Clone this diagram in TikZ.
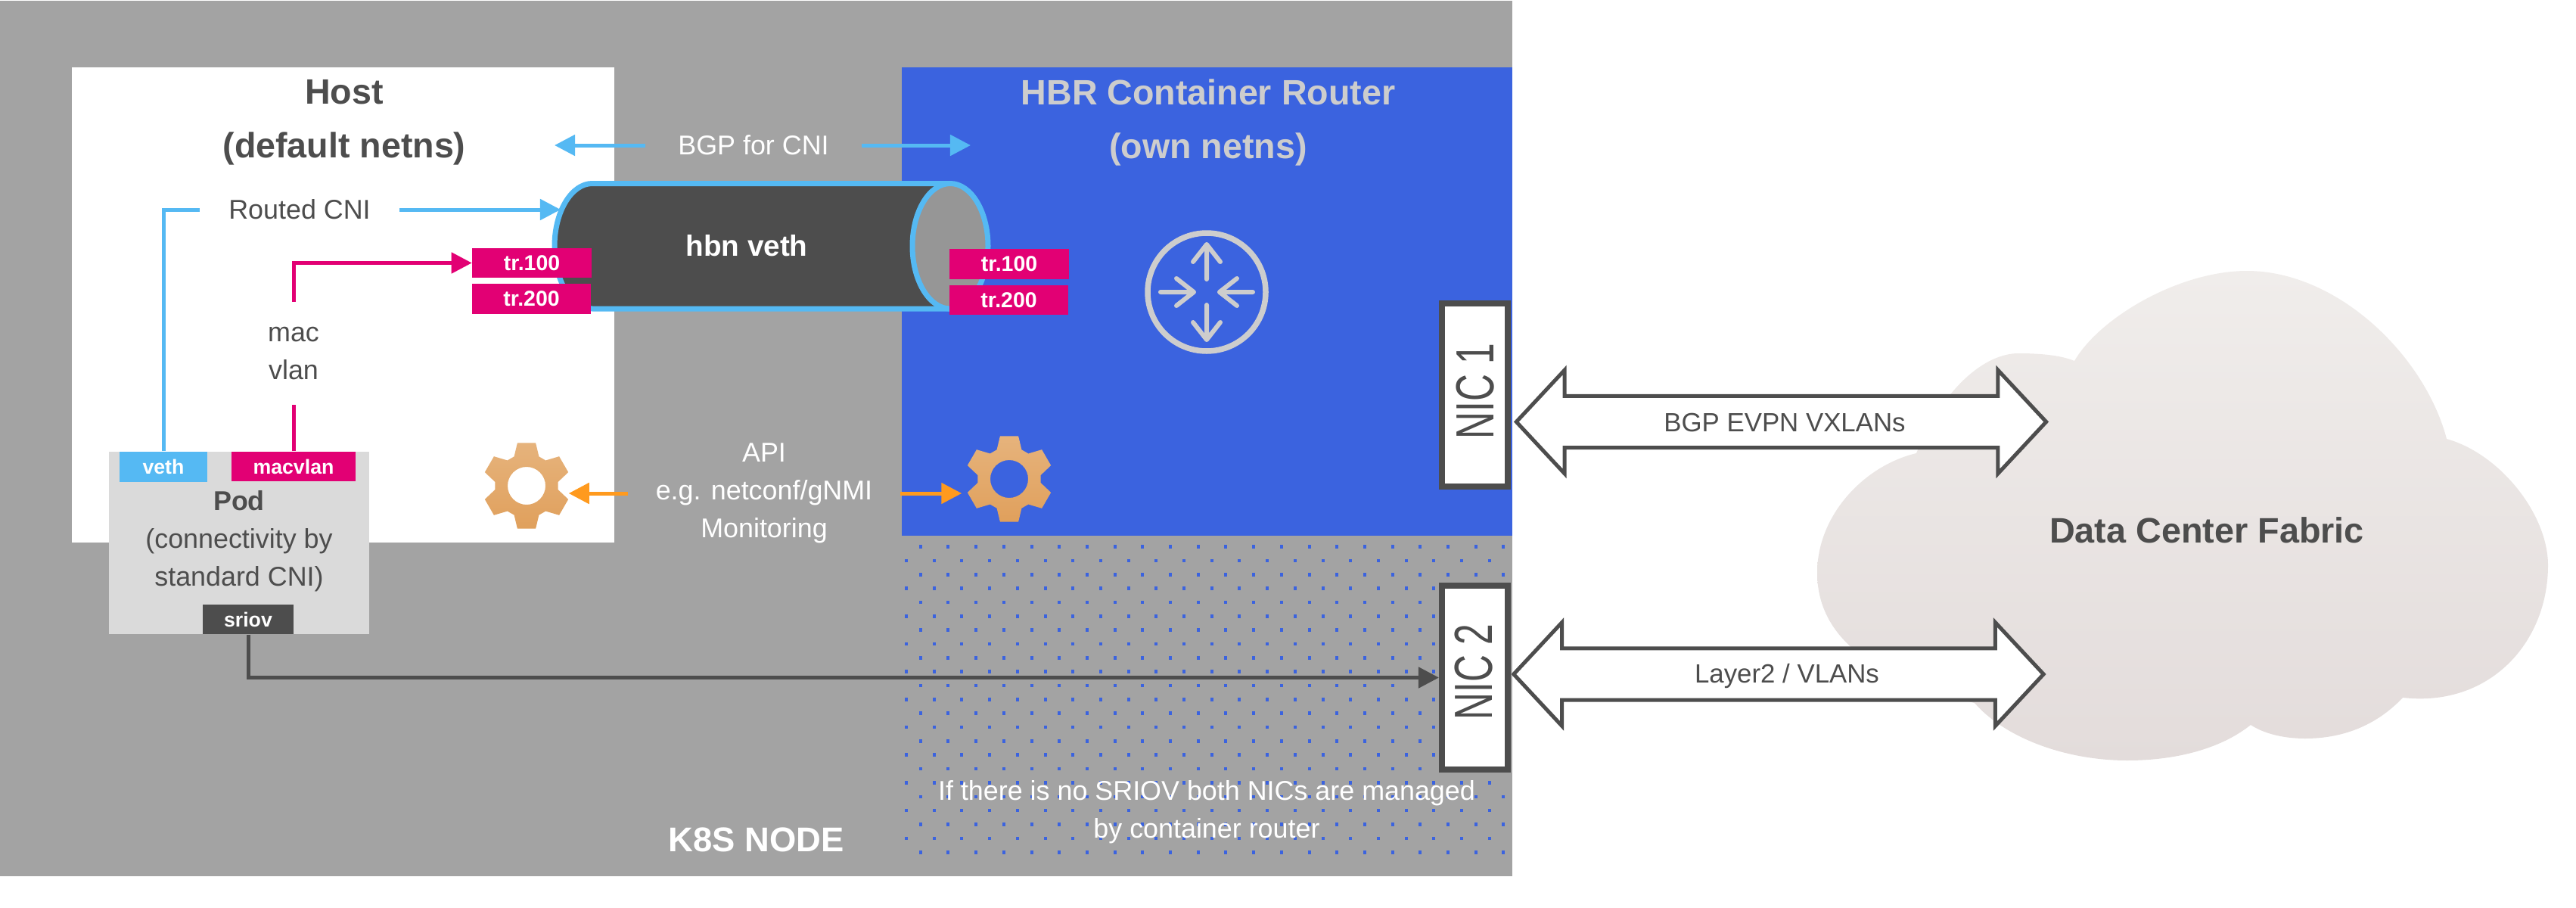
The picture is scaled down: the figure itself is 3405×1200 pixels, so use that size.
\documentclass[tikz,border=0pt]{standalone}
\usepackage{fontspec}
\setmainfont{Liberation Sans}
\usetikzlibrary{arrows.meta,shapes.arrows}
\definecolor{nodegray}{HTML}{A3A3A3}
\definecolor{podgray}{HTML}{DADADA}
\definecolor{capgray}{HTML}{969696}
\definecolor{iconlight}{HTML}{CDCDCD}
\definecolor{darktext}{HTML}{4D4D4D}
\definecolor{routerblue}{HTML}{3B63DF}
\definecolor{vethblue}{HTML}{55B9F3}
\definecolor{trmagenta}{HTML}{E20074}
\definecolor{apiorange}{HTML}{FF9A1E}
\definecolor{geartop}{HTML}{E6B37C}
\definecolor{gearbottom}{HTML}{E0A05C}
\definecolor{cloudtop}{HTML}{F0EDEB}
\definecolor{cloudbottom}{HTML}{E3DCDB}
\begin{document}
\begin{tikzpicture}[x=0.01cm,y=-0.01cm,
txt/.style={font=\fontsize{10.2}{14.2}\selectfont,align=center,inner sep=0pt},
title/.style={font=\fontsize{13.25}{20.2}\selectfont\bfseries,align=center,inner sep=0pt},
tag/.style={font=\fontsize{7.6}{9}\selectfont\bfseries,text=white,inner sep=0pt,minimum height=0.39cm},
trtag/.style={tag,fill=trmagenta,font=\fontsize{8.1}{9}\selectfont\bfseries,minimum width=1.57cm},
nicbox/.style={draw=darktext,fill=white,line width=0.08cm,minimum width=0.87cm,minimum height=2.43cm,inner sep=0pt},
nictxt/.style={font=\fontsize{20.2}{22}\selectfont,text=darktext,rotate=90,inner sep=0pt},
dblarrow/.style={double arrow,draw=darktext,fill=white,line width=0.05cm,double arrow tip angle=94,double arrow head extend=0.345cm,minimum height=7cm,minimum width=1.32cm,inner sep=0pt,text height=0.63cm,text depth=0pt},
dbltxt/.style={text=darktext,font=\fontsize{9.9}{12}\selectfont,inner sep=0pt},
link/.style={line width=0.05cm,-{Triangle[length=0.27cm,width=0.27cm]}},
gearslot/.style={circle,minimum size=#1,inner sep=0pt},
gear/.pic={\path[top color=geartop,bottom color=gearbottom,even odd rule](67:42)\foreach \a in {90,150,...,390}{--(\a-23:42)--(\a-12:58)--(\a+12:58)--(\a+23:42)}--cycle(0,0)circle[radius=25];}]
\useasboundingbox(0,0)rectangle(3405,1200);
% k8s node, host and router areas
\fill[nodegray](0,1)rectangle(1999,1158);
\fill[white](95,89)rectangle(812,717);
\fill[routerblue](1192,89)rectangle(1999,708);
\foreach \r in {0,...,22}{
\pgfmathsetmacro{\dotx}{mod(\r,2)==0?1216.7:1198}
\pgfmathsetmacro{\doty}{722.5+18.35*\r}
\foreach \c in {0,...,21}{
\fill[routerblue](\dotx+36.7*\c-2,\doty-2.3)rectangle++(4,4.6);
}}
% cloud
\path[top color=cloudtop,bottom color=cloudbottom](2742,477)..controls(2775,420)and(2880,358)..(2970,358)..controls(3090,358)and(3205,470)..(3234,580)
..controls(3305,600)and(3368,680)..(3368,747)..controls(3368,850)and(3290,935)..(3176,922)
..controls(3140,960)and(3095,976)..(3047,976)..controls(3015,976)and(2990,968)..(2975,958)
..controls(2935,990)and(2875,1005)..(2812,1005)..controls(2730,1005)and(2650,975)..(2610,929)
..controls(2490,900)and(2402,850)..(2402,757)..controls(2402,680)and(2465,615)..(2533,599)
..controls(2570,510)and(2625,467)..(2668,467)..controls(2700,467)and(2725,470)..(2742,477)--cycle;
% hbn veth pipe
\fill[darktext](783,242.5)arc[start angle=270,end angle=90,x radius=50,y radius=82.75]--(1256,408)arc[start angle=90,end angle=270,x radius=50,y radius=82.75]--cycle;
\draw[vethblue,line width=0.07cm](1256,242.5)--(783,242.5)arc[start angle=270,end angle=90,x radius=50,y radius=82.75]--(1256,408);
\draw[vethblue,fill=capgray,line width=0.07cm](1256,325.25)ellipse[x radius=50,y radius=82.75];
\node[font=\fontsize{11}{13}\selectfont\bfseries,text=white,inner sep=0pt](hbnveth)at(987,325){hbn veth};
% titles
\node[title,text=darktext](hosttitle)at(455,162){Host\\(default netns)};
\node[title,text=iconlight](routertitle)at(1597,162){HBR Container Router\\(own netns)};
\node[title,text=white,font=\fontsize{12.9}{15}\selectfont\bfseries](k8snode)at(999.5,1110){K8S NODE};
\node[title,text=darktext,font=\fontsize{13.3}{15}\selectfont\bfseries](fabric)at(2917,701){Data Center Fabric};
% pod
\node[fill=podgray,minimum width=3.44cm,minimum height=2.41cm,inner sep=0pt](pod)at(316,717.5){};
\node[tag,fill=vethblue,minimum width=1.16cm,minimum height=0.4cm](veth)at(216,617){veth};
\node[tag,fill=trmagenta,minimum width=1.64cm](macvlan)at(388,616.5){macvlan};
\node[tag,fill=darktext,minimum width=1.2cm](sriov)at(328,818.5){sriov};
\node[txt,text=darktext](podtext)at(316,715){\textbf{Pod}\\(connectivity by\\standard CNI)};
% trunk ports
\node[trtag](trla)at(703,347.5){tr.100};
\node[trtag,minimum height=0.4cm](trlb)at(702.5,395){tr.200};
\node[trtag,minimum height=0.4cm](trra)at(1334,349){tr.100};
\node[trtag](trrb)at(1333.5,396.5){tr.200};
% router icon
\draw[iconlight,line width=0.075cm](1595,386)circle[radius=78];
\begin{scope}[shift={(1595,386)},iconlight,line width=0.06cm,line cap=round,line join=round]
\foreach \s in {-1,1}{
\draw(0,\s*17)--(0,\s*63)(-18,\s*40)--(0,\s*63)--(18,\s*40);
\draw(\s*61,0)--(\s*17,0)(\s*40,-18)--(\s*17,0)--(\s*40,18);
}
\end{scope}
% gears
\node[gearslot=1.1cm](gearhost)at(696,642){};
\pic at(gearhost){gear};
\node[gearslot=1.24cm](gearrouter)at(1334,633){};
\pic at(gearrouter){gear};
% labels with connectors
\node[txt,text=white,inner xsep=0.43cm](bgpcni)at(996,192){BGP for CNI};
\coordinate(bgpleft)at(733,192);
\coordinate(bgpright)at(1283,192);
\draw[link,vethblue](bgpcni.west)--(bgpleft);
\draw[link,vethblue](bgpcni.east)--(bgpright);
\node[txt,text=darktext,inner xsep=0.375cm](routedcni)at(396,277){Routed CNI};
\coordinate(pipeleft)at(741,277);
\draw[vethblue,line width=0.05cm](veth.north)|-(routedcni.west);
\draw[link,vethblue](routedcni.east)--(pipeleft);
\node[txt,text=darktext,minimum height=1.35cm](macvlantxt)at(388,467){mac\\vlan};
\draw[trmagenta,line width=0.05cm](macvlan.north)--(macvlantxt.south);
\draw[link,trmagenta](macvlantxt.north)|-(trla.west);
\node[txt,text=white,inner xsep=0.36cm](api)at(1010,652){API\\e.g. netconf/gNMI\\Monitoring};
\draw[link,apiorange](api.west)--(gearhost.east|-api.west);
\draw[link,apiorange](api.east)--(gearrouter.west|-api.east);
\node[txt,text=white](sriovnote)at(1595,1073){If there is no SRIOV both NICs are managed\\by container router};
% nics
\node[nicbox,minimum height=2.42cm](nica)at(1949.5,522){};
\node[nicbox](nicb)at(1949.5,895.5){};
\node[nictxt](nicatxt)at(1950,517){\scalebox{0.7}[1]{NIC 1}};
\node[nictxt](nicbtxt)at(1948,888){\scalebox{0.7}[1]{NIC 2}};
\draw[link,darktext](sriov.south)|-(nicb.west);
% fabric links
\node[dblarrow](evpn)at(2354.5,557.5){};
\node[dbltxt](evpntxt)at(2359,559){BGP EVPN VXLANs};
\node[dblarrow](layertwo)at(2351,891){};
\node[dbltxt](layertwotxt)at(2362,893){Layer2 / VLANs};
\end{tikzpicture}
\end{document}
